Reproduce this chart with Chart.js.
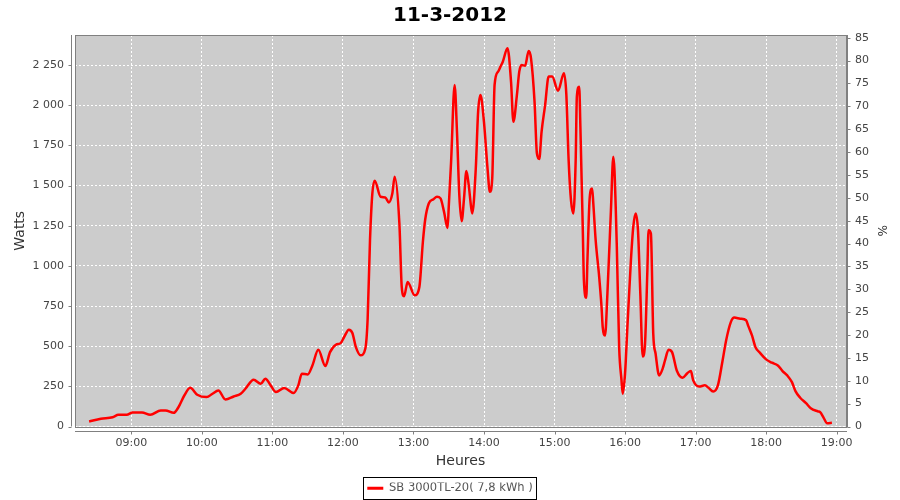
<!DOCTYPE html>
<html>
<head>
<meta charset="utf-8">
<script src="https://cdn.jsdelivr.net/npm/chart.js@4.4.1/dist/chart.umd.min.js"></script>
<style>
  html, body { margin: 0; background: #fff; }
  #wrap { width: 900px; height: 500px; }
</style>
</head>
<body>
<div id="wrap"><canvas id="chart"></canvas></div>
<script>
// Data
const chartTitle = "11-3-2012";
const seriesName = "SB 3000TL-20( 7,8 kWh )";

const times = [
  "08:24","08:34","08:44","08:49","08:56","09:01","09:09","09:16","09:25","09:29",
  "09:36","09:40","09:45","09:50","09:56","10:04","10:09","10:14","10:20","10:27",
  "10:33","10:37","10:44","10:50","10:54","10:58","11:03","11:10","11:18","11:22",
  "11:25","11:30","11:34","11:39","11:45","11:49","11:54","11:58","12:01","12:05",
  "12:08","12:11","12:15","12:19","12:21","12:23","12:25","12:27","12:32","12:36",
  "12:39","12:42","12:44","12:48","12:50","12:52","12:55","13:01","13:05","13:08",
  "13:10","13:13","13:17","13:20","13:23","13:26","13:29","13:30","13:32","13:35",
  "13:37","13:39","13:41","13:43","13:45","13:47","13:49","13:50","13:53","13:55",
  "13:57","14:00","14:03","14:05","14:07","14:09","14:12","14:14","14:16","14:20",
  "14:23","14:25","14:28","14:30","14:32","14:35","14:38","14:40","14:43","14:45",
  "14:47","14:49","14:52","14:55","14:58","15:03","15:08","15:10","15:12","15:14",
  "15:16","15:18","15:19","15:21","15:22","15:24","15:25","15:27","15:28","15:30",
  "15:32","15:33","15:35","15:38","15:40","15:41","15:43","15:45","15:48","15:50",
  "15:51","15:53","15:55","15:57","15:58","16:00","16:02","16:05","16:07","16:09",
  "16:11","16:13","16:15","16:17","16:19","16:20","16:22","16:24","16:26","16:29",
  "16:32","16:34","16:37","16:40","16:44","16:49","16:53","16:56","16:58","17:03",
  "17:08","17:11","17:15","17:19","17:23","17:26","17:30","17:33","17:38","17:43",
  "17:45","17:48","17:51","17:55","18:00","18:05","18:10","18:14","18:18","18:22",
  "18:25","18:29","18:34","18:38","18:44","18:46","18:49","18:52","18:56"
];

const watts = [
  31, 48, 58, 73, 73, 87, 87, 73, 100, 100,
  85, 120, 193, 241, 198, 183, 204, 224, 168, 187,
  204, 235, 291, 266, 297, 262, 214, 239, 208, 256,
  329, 324, 380, 478, 376, 463, 509, 519, 557, 603,
  582, 494, 443, 484, 671, 1160, 1451, 1530, 1430, 1426,
  1395, 1451, 1555, 1264, 869, 810, 900, 817, 869, 1150,
  1290, 1388, 1415, 1430, 1420, 1336, 1236, 1367, 1648, 2126,
  1835, 1440, 1278, 1420, 1590, 1502, 1367, 1326, 1606, 1960,
  2064, 1893, 1606, 1461, 1544, 2126, 2209, 2240, 2271, 2355,
  2146, 1897, 2064, 2209, 2250, 2246, 2338, 2292, 2022, 1700,
  1665, 1835, 2001, 2178, 2178, 2090, 2199, 2074, 1658, 1409,
  1326, 1658, 2053, 2115, 1866, 1243, 910, 802, 1035, 1430,
  1482, 1388, 1160, 931, 744, 619, 567, 827, 1347, 1679,
  1596, 1118, 494, 287, 204, 329, 619, 1035, 1243, 1326,
  1222, 827, 436, 516, 973, 1222, 1201, 578, 453, 318,
  360, 411, 478, 463, 349, 304, 332, 345, 287, 249,
  256, 241, 218, 256, 411, 536, 650, 678, 671, 661,
  623, 567, 494, 457, 418, 397, 380, 345, 318, 276,
  220, 179, 145, 114, 94, 89, 54, 21, 23
];

const hourTicks = ["09:00","10:00","11:00","12:00","13:00","14:00","15:00","16:00","17:00","18:00","19:00"];
const xRange = ["08:12", "19:08"];
const wattMax = 2437;
const pctMax = 85.6;

function toMin(s) {
  const [h, m] = s.split(":").map(Number);
  return h * 60 + m;
}
function fmtTime(v) {
  const h = Math.floor(v / 60), m = Math.round(v % 60);
  return String(h).padStart(2, "0") + ":" + String(m).padStart(2, "0");
}
function fmtThousands(v) {
  return String(v).replace(/\B(?=(\d{3})+(?!\d))/g, " ");
}

const points = times.map((t, i) => ({ x: toMin(t), y: watts[i] }));

const axisGrey = "#808080";
const labelGrey = "#444444";
const baseFont = "'DejaVu Sans', sans-serif";

// plot background, outline, offset axis lines, tick marks, legend frame
const jfreeLook = {
  id: "jfreeLook",
  beforeDatasetsDraw(chart) {
    const { ctx, chartArea: a } = chart;
    ctx.save();
    ctx.globalCompositeOperation = "destination-over";
    ctx.fillStyle = "#cccccc";
    ctx.fillRect(a.left, a.top, a.right - a.left, a.bottom - a.top);
    ctx.restore();
  },
  afterDraw(chart) {
    const { ctx, chartArea: a, scales } = chart;
    ctx.save();
    ctx.strokeStyle = axisGrey;
    ctx.lineWidth = 1;
    // plot outline
    ctx.strokeRect(Math.round(a.left) + 0.5, Math.round(a.top) + 0.5,
      Math.round(a.right - a.left), Math.round(a.bottom - a.top));
    const L = Math.round(a.left) - 3.5, B = Math.round(a.bottom) + 4.5, R = Math.round(a.right) + 1.5;
    ctx.beginPath();
    ctx.moveTo(L, a.top); ctx.lineTo(L, a.bottom);
    ctx.moveTo(a.left, B); ctx.lineTo(a.right + 1, B);
    ctx.moveTo(R, a.top); ctx.lineTo(R, a.bottom + 1);
    scales.y.ticks.forEach(t => {
      const py = Math.round(scales.y.getPixelForValue(t.value)) + 0.5;
      ctx.moveTo(L, py); ctx.lineTo(L - 3, py);
    });
    scales.y1.ticks.forEach(t => {
      const py = Math.round(scales.y1.getPixelForValue(t.value)) + 0.5;
      ctx.moveTo(R, py); ctx.lineTo(R + 3, py);
    });
    scales.x.ticks.forEach(t => {
      const px = Math.round(scales.x.getPixelForValue(t.value)) + 0.5;
      ctx.moveTo(px, B); ctx.lineTo(px, B + 3);
    });
    ctx.stroke();
    // legend frame
    const hb = chart.legend.legendHitBoxes[0];
    if (hb) {
      ctx.strokeStyle = "#000";
      ctx.strokeRect(Math.round(hb.left) - 3.5, Math.round(hb.top) - 5.5,
        Math.round(hb.width) + 8, Math.round(hb.height) + 10);
    }
    ctx.restore();
  }
};

new Chart(document.getElementById("chart"), {
  type: "line",
  data: {
    datasets: [{
      label: seriesName,
      data: points,
      borderColor: "#ff0000",
      backgroundColor: "#ff0000",
      borderWidth: 2.5,
      pointRadius: 0,
      cubicInterpolationMode: "monotone",
      yAxisID: "y"
    }]
  },
  options: {
    responsive: true,
    maintainAspectRatio: false,
    animation: false,
    events: [],
    layout: { padding: { left: 0, right: 0, top: 0, bottom: -4 } },
    plugins: {
      title: {
        display: true,
        text: chartTitle,
        color: "#000",
        font: { family: baseFont, size: 20, weight: "bold" },
        padding: { top: 4, bottom: 7 }
      },
      legend: {
        position: "bottom",
        labels: {
          color: "#555555",
          font: { family: baseFont, size: 11.5 },
          boxWidth: 16,
          boxHeight: 3,
          padding: 0,
          generateLabels(chart) {
            return Chart.defaults.plugins.legend.labels.generateLabels(chart)
              .map(it => Object.assign(it, { lineWidth: 0, fillStyle: "#ff0000" }));
          }
        }
      },
      tooltip: { enabled: false }
    },
    scales: {
      x: {
        type: "linear",
        min: toMin(xRange[0]),
        max: toMin(xRange[1]),
        afterBuildTicks(scale) {
          scale.ticks = hourTicks.map(h => ({ value: toMin(h) }));
        },
        afterFit(scale) { scale.height = 56; },
        ticks: {
          color: labelGrey,
          font: { family: baseFont, size: 11 },
          padding: 10,
          maxRotation: 0,
          autoSkip: false,
          callback: v => fmtTime(v)
        },
        grid: { color: "#ffffff", drawTicks: false, lineWidth: 1 },
        border: { display: false, dash: [2, 2] },
        title: {
          display: true,
          text: "Heures",
          color: "#333333",
          font: { family: baseFont, size: 14 },
          padding: { top: 0, bottom: 13 }
        }
      },
      y: {
        position: "left",
        min: 0,
        max: wattMax,
        afterFit(scale) { scale.width = 75; },
        ticks: {
          stepSize: 250,
          includeBounds: false,
          color: labelGrey,
          font: { family: baseFont, size: 11 },
          padding: 11,
          callback: v => fmtThousands(v)
        },
        grid: { color: "#ffffff", drawTicks: false, lineWidth: 1 },
        border: { display: false, dash: [2, 2] },
        title: {
          display: true,
          text: "Watts",
          color: "#333333",
          font: { family: baseFont, size: 14 },
          padding: { top: 12, bottom: 0 }
        }
      },
      y1: {
        position: "right",
        min: 0,
        max: pctMax,
        afterFit(scale) { scale.width = 54; },
        ticks: {
          stepSize: 5,
          includeBounds: false,
          color: labelGrey,
          font: { family: baseFont, size: 11 },
          padding: 9
        },
        grid: { drawOnChartArea: false, drawTicks: false },
        border: { display: false },
        title: {
          display: true,
          text: "%",
          color: "#333333",
          font: { family: baseFont, size: 12 },
          padding: { top: 12, bottom: 0 }
        }
      }
    }
  },
  plugins: [jfreeLook]
});
</script>
</body>
</html>
